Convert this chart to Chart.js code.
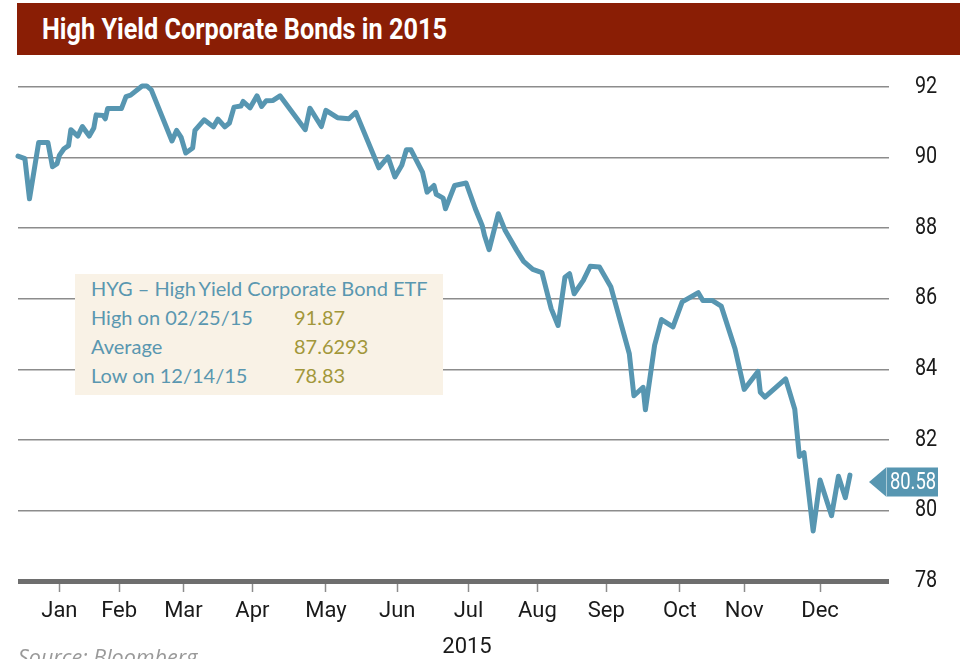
<!DOCTYPE html>
<html>
<head>
<meta charset="utf-8">
<title>High Yield Corporate Bonds in 2015</title>
<script src="https://cdn.jsdelivr.net/npm/chart.js@4.4.1/dist/chart.umd.min.js"></script>
<style>
  html, body { margin: 0; padding: 0; background: #ffffff; overflow: hidden; }
  #wrap { position: relative; width: 964px; height: 659px; }
  #chart { position: absolute; left: 0; top: 0; }
  #title-bar {
    position: absolute; left: 17px; top: 3px; width: 943px; height: 52px;
    background: #8a1e05;
  }
  #title-text {
    position: absolute; left: 25px; top: 10px; white-space: nowrap;
    color: #ffffff; font-weight: bold; font-size: 30px; line-height: 32px;
    font-family: Roboto, sans-serif;
    transform-origin: 0 50%;
  }
  #stats-box {
    position: absolute; left: 75px; top: 274px; width: 368px; height: 121px;
    background: #f9f2e6;
    font-family: Lato, 'Open Sans', sans-serif; font-size: 20px; color: #5a97b0;
  }
  #stats-box .row { position: absolute; left: 16px; white-space: nowrap; line-height: 22px; }
  #stats-box .val { position: absolute; left: 203px; color: #a2973a; }
  #year {
    position: absolute; left: 442px; top: 634px; width: 50px; text-align: center;
    font-family: Roboto, sans-serif;
    font-size: 22px; color: #1a1a1a; line-height: 24px;
  }
  #source {
    position: absolute; left: 18px; top: 645px; white-space: nowrap;
    font-family: 'Open Sans', Lato, sans-serif; font-style: italic;
    font-size: 21.5px; line-height: 24px; color: #9a9a9a;
  }
</style>
</head>
<body>
<div id="wrap">
  <canvas id="chart" width="964" height="659"></canvas>
  <div id="title-bar"><span id="title-text">High Yield Corporate Bonds in 2015</span></div>
  <div id="stats-box"></div>
  <div id="year">2015</div>
  <div id="source">Source: Bloomberg</div>
</div>
<script>
// HYG closes, x = day of year 2015
const tradeDays = [2, 5, 7, 11, 15, 17, 19, 20, 22, 24, 25, 28, 30, 33, 35, 36, 39, 40, 41, 47,
    49, 51, 56, 58, 60, 69, 71, 73, 75, 78, 79, 83, 87, 89, 92, 94, 96, 99, 100, 103,
    106, 108, 110, 113, 116, 127, 129, 134, 136, 141, 146, 149, 159, 163, 166, 169, 171, 173, 178, 180,
    183, 184, 187, 188, 192, 197, 201, 204, 205, 207, 211, 214, 219, 222, 226, 230, 234, 237, 240, 242,
    244, 248, 251, 255, 260, 263, 268, 270, 274, 275, 279, 282, 287, 291, 298, 300, 304, 308, 314, 318,
    324, 325, 327, 336, 340, 342, 344, 348, 351, 356, 359, 362, 364];
const hygPrice = [90.04, 89.97, 88.83, 90.43, 90.43, 89.74, 89.83, 90.06, 90.25, 90.34, 90.79, 90.61, 90.88, 90.61, 90.84, 91.21, 91.19, 91.10, 91.39, 91.39,
    91.73, 91.77, 92.03, 92.03, 91.92, 90.47, 90.77, 90.57, 90.13, 90.27, 90.77, 91.07, 90.87, 91.09, 90.87, 90.98, 91.43, 91.46, 91.59, 91.41,
    91.75, 91.45, 91.61, 91.62, 91.75, 90.79, 91.40, 90.88, 91.34, 91.13, 91.10, 91.28, 89.71, 90.02, 89.45, 89.78, 90.22, 90.22, 89.59, 89.02,
    89.21, 88.96, 88.85, 88.55, 89.21, 89.28, 88.55, 88.07, 87.79, 87.39, 88.41, 87.93, 87.37, 87.06, 86.83, 86.74, 85.72, 85.24, 86.61, 86.71,
    86.14, 86.52, 86.92, 86.90, 86.33, 85.62, 84.44, 83.25, 83.49, 82.85, 84.68, 85.41, 85.20, 85.91, 86.17, 85.95, 85.95, 85.79, 84.58, 83.43,
    83.94, 83.35, 83.21, 83.73, 82.87, 81.53, 81.64, 79.42, 80.86, 79.85, 80.97, 80.36, 81.00];

// month labels sit roughly mid-month
const monthLabels = ['Jan', 'Feb', 'Mar', 'Apr', 'May', 'Jun', 'Jul', 'Aug', 'Sep', 'Oct', 'Nov', 'Dec'];
const monthTickDays = [20, 46, 74, 104, 136, 167, 198, 228, 258, 290, 318, 351];
const priceTicks = [78, 80, 82, 84, 86, 88, 90, 92];

// stats box text
const statHeader = 'HYG \u2013 High\u2009Yield Corporate Bond ETF';
const statLabels = ['High on 02/25/15', 'Average', 'Low on 12/14/15'];
const statValues = ['91.87', '87.6293', '78.83'];
const lastClose = 80.58;

const chartStyles = {
    lineColor: '#5796b1',
    gridColor: '#8c8c8c',
    baseColor: '#6e6e6e',
    tickFontColor: '#1a1a1a',
    tickFont: 'Roboto, sans-serif',
    squeeze: 0.86, // fake a condensed face, none is installed
    tagColor: '#5796b1'
};

// stats box
const box = document.getElementById('stats-box');
const rows = [[statHeader, null]].concat(statLabels.map((l, i) => [l, statValues[i]]));
rows.forEach((r, i) => {
    const row = document.createElement('div');
    row.className = 'row';
    row.style.top = (3 + i * 29) + 'px';
    row.textContent = r[0];
    if (r[1] !== null) {
        const v = document.createElement('span');
        v.className = 'val';
        v.textContent = r[1];
        row.style.width = '340px';
        row.appendChild(v);
    }
    box.appendChild(row);
});

// squeeze title to the width of the original
const titleText = document.getElementById('title-text');
titleText.style.transform = 'scaleX(' + (405 / titleText.offsetWidth) + ')';

// value labels of the right axis, squeezed
const rightAxisLabels = {
    id: 'rightAxisLabels',
    afterDraw(chart) {
        const { ctx, chartArea, scales } = chart;
        ctx.save();
        ctx.font = '23px ' + chartStyles.tickFont;
        ctx.fillStyle = chartStyles.tickFontColor;
        ctx.textAlign = 'left';
        ctx.textBaseline = 'middle';
        priceTicks.forEach(v => {
            ctx.save();
            ctx.translate(chartArea.right + 26, scales.y.getPixelForValue(v));
            ctx.scale(chartStyles.squeeze, 1);
            ctx.fillText(String(v), 0, 0);
            ctx.restore();
        });
        ctx.restore();
    }
};

// last value tag on the right axis
const lastValueTag = {
    id: 'lastValueTag',
    afterDraw(chart) {
        const { ctx, chartArea, scales } = chart;
        const yc = scales.y.getPixelForValue(lastClose) - 8;
        const left = chartArea.right - 3;
        const w = 52, h = 29, tip = 17;
        ctx.save();
        ctx.fillStyle = chartStyles.tagColor;
        ctx.beginPath();
        ctx.moveTo(left - tip, yc);
        ctx.lineTo(left, yc - h / 2);
        ctx.lineTo(left + w, yc - h / 2);
        ctx.lineTo(left + w, yc + h / 2);
        ctx.lineTo(left, yc + h / 2);
        ctx.closePath();
        ctx.fill();
        ctx.strokeStyle = 'rgba(255,255,255,0.5)';
        ctx.lineWidth = 1;
        ctx.beginPath();
        ctx.moveTo(left + 0.5, yc - h / 2);
        ctx.lineTo(left + 0.5, yc + h / 2);
        ctx.stroke();
        ctx.fillStyle = '#ffffff';
        ctx.font = '23px ' + chartStyles.tickFont;
        ctx.textAlign = 'center';
        ctx.textBaseline = 'middle';
        ctx.translate(left + w / 2 + 1, yc + 1);
        ctx.scale(0.8, 1);
        ctx.fillText(lastClose.toFixed(2), 0, 0);
        ctx.restore();
    }
};

const ctx = document.getElementById('chart');
const config = {
    type: 'line',
    data: {
        datasets: [{
            data: tradeDays.map((d, i) => ({ x: d, y: hygPrice[i] })),
            borderColor: chartStyles.lineColor,
            borderWidth: 5,
            pointRadius: 0,
            tension: 0,
            clip: false,
            borderJoinStyle: 'round',
            borderCapStyle: 'round'
        }]
    },
    options: {
        responsive: false,
        animation: false,
        layout: { padding: { left: 18, top: 87, right: 0, bottom: 0 } },
        plugins: {
            legend: { display: false },
            tooltip: { enabled: false }
        },
        scales: {
            x: {
                type: 'linear',
                min: 2,
                max: 381,
                afterBuildTicks: scale => { scale.ticks = monthTickDays.map(v => ({ value: v })); },
                afterFit: scale => { scale.height = 78; },
                grid: {
                    drawOnChartArea: false,
                    drawTicks: true,
                    tickLength: 11,
                    tickColor: chartStyles.gridColor,
                    tickWidth: 1.5
                },
                border: { display: false },
                ticks: {
                    autoSkip: false,
                    maxRotation: 0,
                    padding: 6,
                    color: chartStyles.tickFontColor,
                    font: { family: chartStyles.tickFont, size: 22 },
                    callback: (v, i) => monthLabels[i]
                }
            },
            y: {
                position: 'right',
                min: 78,
                max: 92,
                afterBuildTicks: scale => { scale.ticks = priceTicks.map(v => ({ value: v })); },
                afterFit: scale => { scale.width = 75; },
                grid: {
                    drawTicks: false,
                    color: c => c.tick && c.tick.value === 78 ? chartStyles.baseColor : chartStyles.gridColor,
                    lineWidth: c => c.tick && c.tick.value === 78 ? 5 : 1.5
                },
                border: { display: false },
                ticks: { display: false }
            }
        }
    },
    plugins: [rightAxisLabels, lastValueTag]
};

new Chart(ctx, config);
</script>
</body>
</html>
